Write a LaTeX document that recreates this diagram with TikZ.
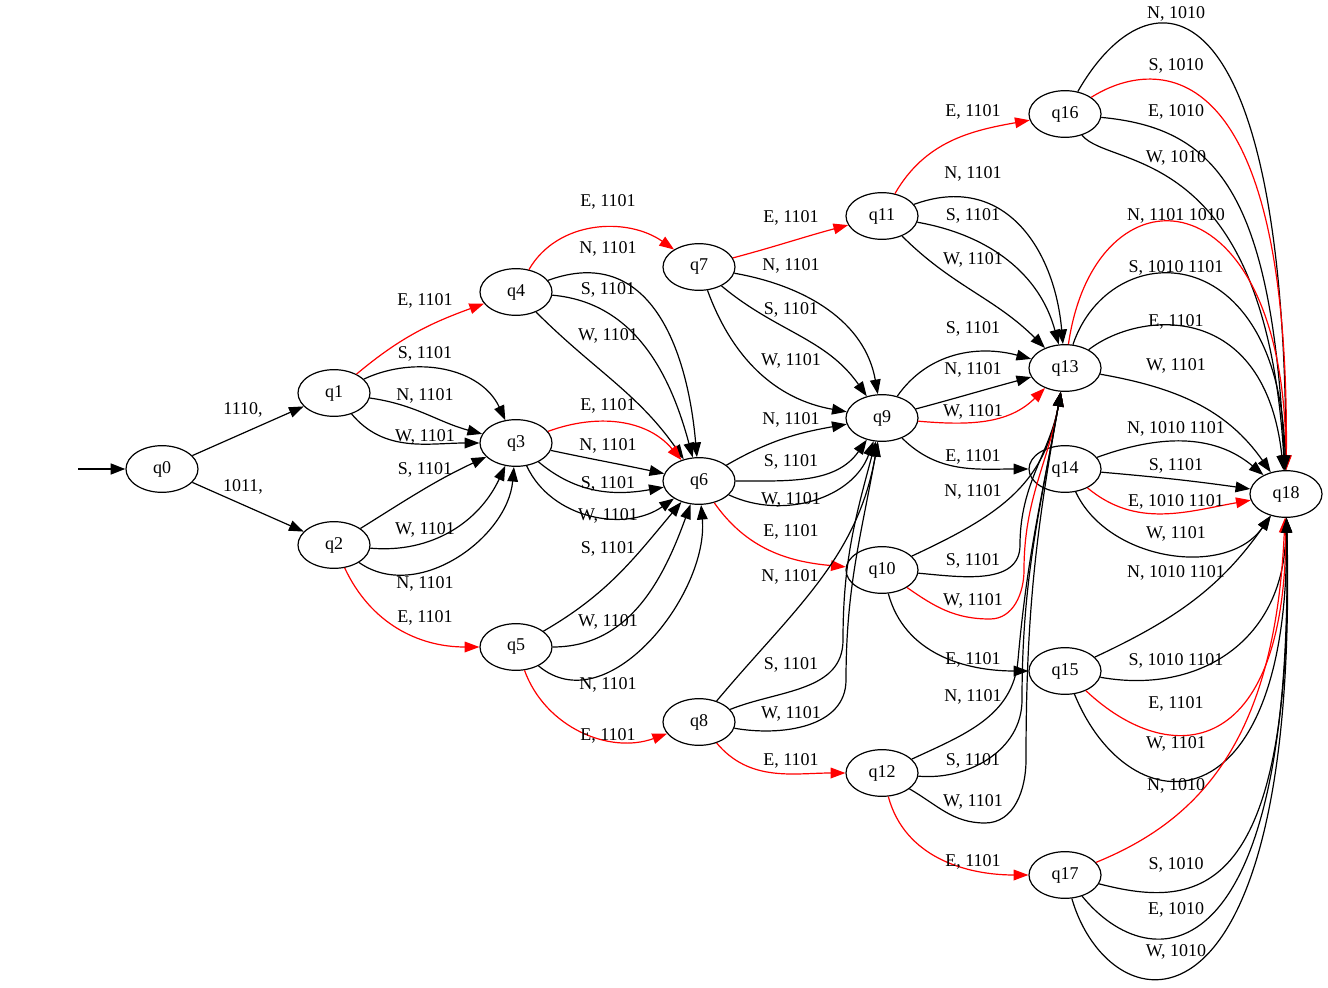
\documentclass[tikz,border=0pt]{standalone}
\usepackage{fontspec}
\setmainfont{Liberation Serif}
\usetikzlibrary{arrows.meta,shapes.geometric}

\begin{document}
\begin{tikzpicture}[x=0.75pt,y=0.75pt,
  font=\fontsize{13.5}{16}\selectfont,
  state/.style={ellipse,draw,line width=0.9pt,minimum width=54pt,minimum height=35pt,inner sep=0pt},
  trans/.style={line width=0.9pt,-{Triangle[length=11pt,width=8pt]}},
  hot/.style={trans,red},
  lbl/.style={inner sep=0pt,text=black}]
\useasboundingbox (0,0) rectangle (1328,-988);

% states
\node[state] (q0) at (162,-469) {q0};
\node[state] (q1) at (334,-393) {q1};
\node[state] (q2) at (334,-545) {q2};
\node[state] (q3) at (516,-443) {q3};
\node[state] (q4) at (516,-292) {q4};
\node[state] (q5) at (516,-647) {q5};
\node[state] (q6) at (699,-481) {q6};
\node[state] (q7) at (699,-267) {q7};
\node[state] (q8) at (699,-722) {q8};
\node[state] (q9) at (882,-418) {q9};
\node[state] (q10) at (882,-570) {q10};
\node[state] (q11) at (882,-216) {q11};
\node[state] (q12) at (882,-773) {q12};
\node[state] (q13) at (1065,-368) {q13};
\node[state] (q14) at (1065,-469) {q14};
\node[state] (q15) at (1065,-671) {q15};
\node[state] (q16) at (1065,-114) {q16};
\node[state] (q17) at (1065,-875) {q17};
\node[state] (q18) at (1286,-494) {q18};
\coordinate (start) at (78,-469);

\draw[trans,line width=1.8pt] (start) -- (q0);
\draw[trans] (q0) -- (q1) node[lbl,at={(243,-410)}] {1110,};
\draw[trans] (q0) -- (q2) node[lbl,at={(243,-487)}] {1011,};

% from q1, q2
\draw[hot] (q1) to[out=40,in=200] (q4) node[lbl,at={(425,-301)}] {E, 1101};
\draw[trans] (q1) to[out=25,in=115] (q3) node[lbl,at={(425,-354)}] {S, 1101};
\draw[trans] (q1) to[out=-8,in=165] (q3) node[lbl,at={(425,-396)}] {N, 1101};
\draw[trans] (q1) to[out=-50,in=180] (q3) node[lbl,at={(425,-437)}] {W, 1101};
\draw[trans] (q2) to[out=32,in=205] (q3) node[lbl,at={(425,-470)}] {S, 1101};
\draw[trans] (q2) to[out=-5,in=-115] (q3) node[lbl,at={(425,-530)}] {W, 1101};
\draw[trans] (q2) to[out=-35,in=-95] (q3) node[lbl,at={(425,-584)}] {N, 1101};
\draw[hot] (q2) to[out=-65,in=180] (q5) node[lbl,at={(425,-618)}] {E, 1101};

% from q4, q3, q5
\draw[hot] (q4) to[out=60,in=145] (q7) node[lbl,at={(608,-202)}] {E, 1101};
\draw[trans] (q4) to[out=20,in=95,looseness=1.2] (q6) node[lbl,at={(608,-249)}] {N, 1101};
\draw[trans] (q4) to[out=-5,in=105] (q6) node[lbl,at={(608,-290)}] {S, 1101};
\draw[trans] (q4) to[out=-45,in=125] (q6) node[lbl,at={(608,-336)}] {W, 1101};
\draw[hot] (q3) to[out=20,in=130] (q6) node[lbl,at={(608,-406)}] {E, 1101};
\draw[trans] (q3) to[out=-12,in=168] (q6) node[lbl,at={(608,-446)}] {N, 1101};
\draw[trans] (q3) to[out=-40,in=190] (q6) node[lbl,at={(608,-484)}] {S, 1101};
\draw[trans] (q3) to[out=-65,in=215] (q6) node[lbl,at={(608,-516)}] {W, 1101};
\draw[trans] (q5) to[out=30,in=230] (q6) node[lbl,at={(608,-549)}] {S, 1101};
\draw[trans] (q5) to[out=0,in=-110] (q6) node[lbl,at={(608,-622)}] {W, 1101};
\draw[trans] (q5) to[out=-40,in=-85] (q6) node[lbl,at={(608,-685)}] {N, 1101};
\draw[hot] (q5) to[out=-70,in=200] (q8) node[lbl,at={(608,-736)}] {E, 1101};

% from q7, q6, q8
\draw[hot] (q7) to[out=15,in=195] (q11) node[lbl,at={(791,-218)}] {E, 1101};
\draw[trans] (q7) to[out=-10,in=100] (q9) node[lbl,at={(791,-266)}] {N, 1101};
\draw[trans] (q7) to[out=-40,in=125] (q9) node[lbl,at={(791,-310)}] {S, 1101};
\draw[trans] (q7) to[out=-70,in=170] (q9) node[lbl,at={(791,-361)}] {W, 1101};
\draw[trans] (q6) to[out=30,in=190] (q9) node[lbl,at={(791,-420)}] {N, 1101};
\draw[trans] (q6) to[out=0,in=235] (q9) node[lbl,at={(791,-462)}] {S, 1101};
\draw[trans] (q6) to[out=-25,in=250] (q9) node[lbl,at={(791,-500)}] {W, 1101};
\draw[hot] (q6) to[out=-55,in=175] (q10) node[lbl,at={(791,-532)}] {E, 1101};
\draw[trans] (q8) to[out=50,in=-100] (q9) node[lbl,at={(790,-577)}] {N, 1101};
\draw[trans] (q8) to[out=22,in=-90] (843,-640) to[out=90,in=-105] (q9) node[lbl,at={(791,-665)}] {S, 1101};
\draw[trans] (q8) to[out=-10,in=-90] (846,-680) to[out=90,in=-100] (q9) node[lbl,at={(791,-714)}] {W, 1101};
\draw[hot] (q8) to[out=-50,in=180] (q12) node[lbl,at={(791,-761)}] {E, 1101};

% from q11, q9, q10, q12
\draw[hot] (q11) to[out=60,in=190] (q16) node[lbl,at={(973,-112)}] {E, 1101};
\draw[trans] (q11) to[out=20,in=95,looseness=1.2] (q13) node[lbl,at={(973,-174)}] {N, 1101};
\draw[trans] (q11) to[out=-10,in=105] (q13) node[lbl,at={(973,-216)}] {S, 1101};
\draw[trans] (q11) to[out=-45,in=135] (q13) node[lbl,at={(973,-260)}] {W, 1101};
\draw[trans] (q9) to[out=55,in=165] (q13) node[lbl,at={(973,-329)}] {S, 1101};
\draw[trans] (q9) to[out=15,in=195] (q13) node[lbl,at={(973,-370)}] {N, 1101};
\draw[hot] (q9) to[out=-5,in=-135] (q13) node[lbl,at={(973,-412)}] {W, 1101};
\draw[trans] (q9) to[out=-45,in=180] (q14) node[lbl,at={(973,-457)}] {E, 1101};
\draw[trans] (q10) to[out=25,in=-100,looseness=1.1] (q13) node[lbl,at={(973,-492)}] {N, 1101};
\draw[trans] (q10) to[out=-5,in=-90] (1020,-545) to[out=90,in=-100] (q13) node[lbl,at={(973,-561)}] {S, 1101};
\draw[hot] (q10) to[out=-35,in=180] (990,-619) to[out=0,in=-90] (1024,-570) to[out=90,in=-100] (q13) node[lbl,at={(973,-601)}] {W, 1101};
\draw[trans] (q10) to[out=-75,in=180] (q15) node[lbl,at={(973,-660)}] {E, 1101};
\draw[trans] (q12) to[out=25,in=-95] (1018,-660) to[out=85,in=-100] (q13) node[lbl,at={(973,-697)}] {N, 1101};
\draw[trans] (q12) to[out=-5,in=-90] (1022,-700) to[out=90,in=-100] (q13) node[lbl,at={(973,-761)}] {S, 1101};
\draw[trans] (q12) to[out=-30,in=180] (985,-823) to[out=0,in=-90] (1026,-760) to[out=90,in=-100] (q13) node[lbl,at={(973,-802)}] {W, 1101};
\draw[hot] (q12) to[out=-75,in=180] (q17) node[lbl,at={(973,-862)}] {E, 1101};

% into q18
\draw[trans] (q16) .. controls (1150,35) and (1285,25) .. (q18) node[lbl,at={(1176,-14)}] {N, 1010};
\draw[hot] (q16) .. controls (1150,-60) and (1290,-40) .. (q18) node[lbl,at={(1176,-66)}] {S, 1010};
\draw[trans] (q16) .. controls (1215,-128) and (1272,-190) .. (q18) node[lbl,at={(1176,-112)}] {E, 1010};
\draw[trans] (q16) .. controls (1110,-170) and (1265,-140) .. (q18) node[lbl,at={(1176,-158)}] {W, 1010};
\draw[hot] (q13) .. controls (1095,-160) and (1285,-170) .. (q18) node[lbl,at={(1176,-216)}] {N, 1101 1010};
\draw[trans] (q13) .. controls (1110,-235) and (1280,-235) .. (q18) node[lbl,at={(1176,-268)}] {S, 1010 1101};
\draw[trans] (q13) .. controls (1140,-310) and (1265,-300) .. (q18) node[lbl,at={(1176,-322)}] {E, 1101};
\draw[trans] (q13) to[out=-10,in=125] (q18) node[lbl,at={(1176,-366)}] {W, 1101};
\draw[trans] (q14) to[out=20,in=140] (q18) node[lbl,at={(1176,-429)}] {N, 1010 1101};
\draw[trans] (q14) to[out=-5,in=172] (q18) node[lbl,at={(1176,-466)}] {S, 1101};
\draw[hot] (q14) to[out=-40,in=190] (q18) node[lbl,at={(1176,-502)}] {E, 1010 1101};
\draw[trans] (q14) to[out=-65,in=235] (q18) node[lbl,at={(1176,-534)}] {W, 1101};
\draw[trans] (q15) to[out=25,in=-125] (q18) node[lbl,at={(1176,-573)}] {N, 1010 1101};
\draw[trans] (q15) .. controls (1200,-695) and (1285,-640) .. (q18) node[lbl,at={(1176,-661)}] {S, 1010 1101};
\draw[hot] (q15) .. controls (1170,-770) and (1285,-760) .. (q18) node[lbl,at={(1176,-704)}] {E, 1101};
\draw[trans] (q15) .. controls (1130,-830) and (1290,-830) .. (q18) node[lbl,at={(1176,-744)}] {W, 1101};
\draw[hot] (q17) .. controls (1200,-820) and (1275,-740) .. (q18) node[lbl,at={(1176,-786)}] {N, 1010};
\draw[trans] (q17) .. controls (1200,-910) and (1295,-900) .. (q18) node[lbl,at={(1176,-865)}] {S, 1010};
\draw[trans] (q17) .. controls (1150,-980) and (1295,-980) .. (q18) node[lbl,at={(1176,-910)}] {E, 1010};
\draw[trans] (q17) .. controls (1110,-1030) and (1300,-1060) .. (q18) node[lbl,at={(1176,-952)}] {W, 1010};
\end{tikzpicture}
\end{document}
